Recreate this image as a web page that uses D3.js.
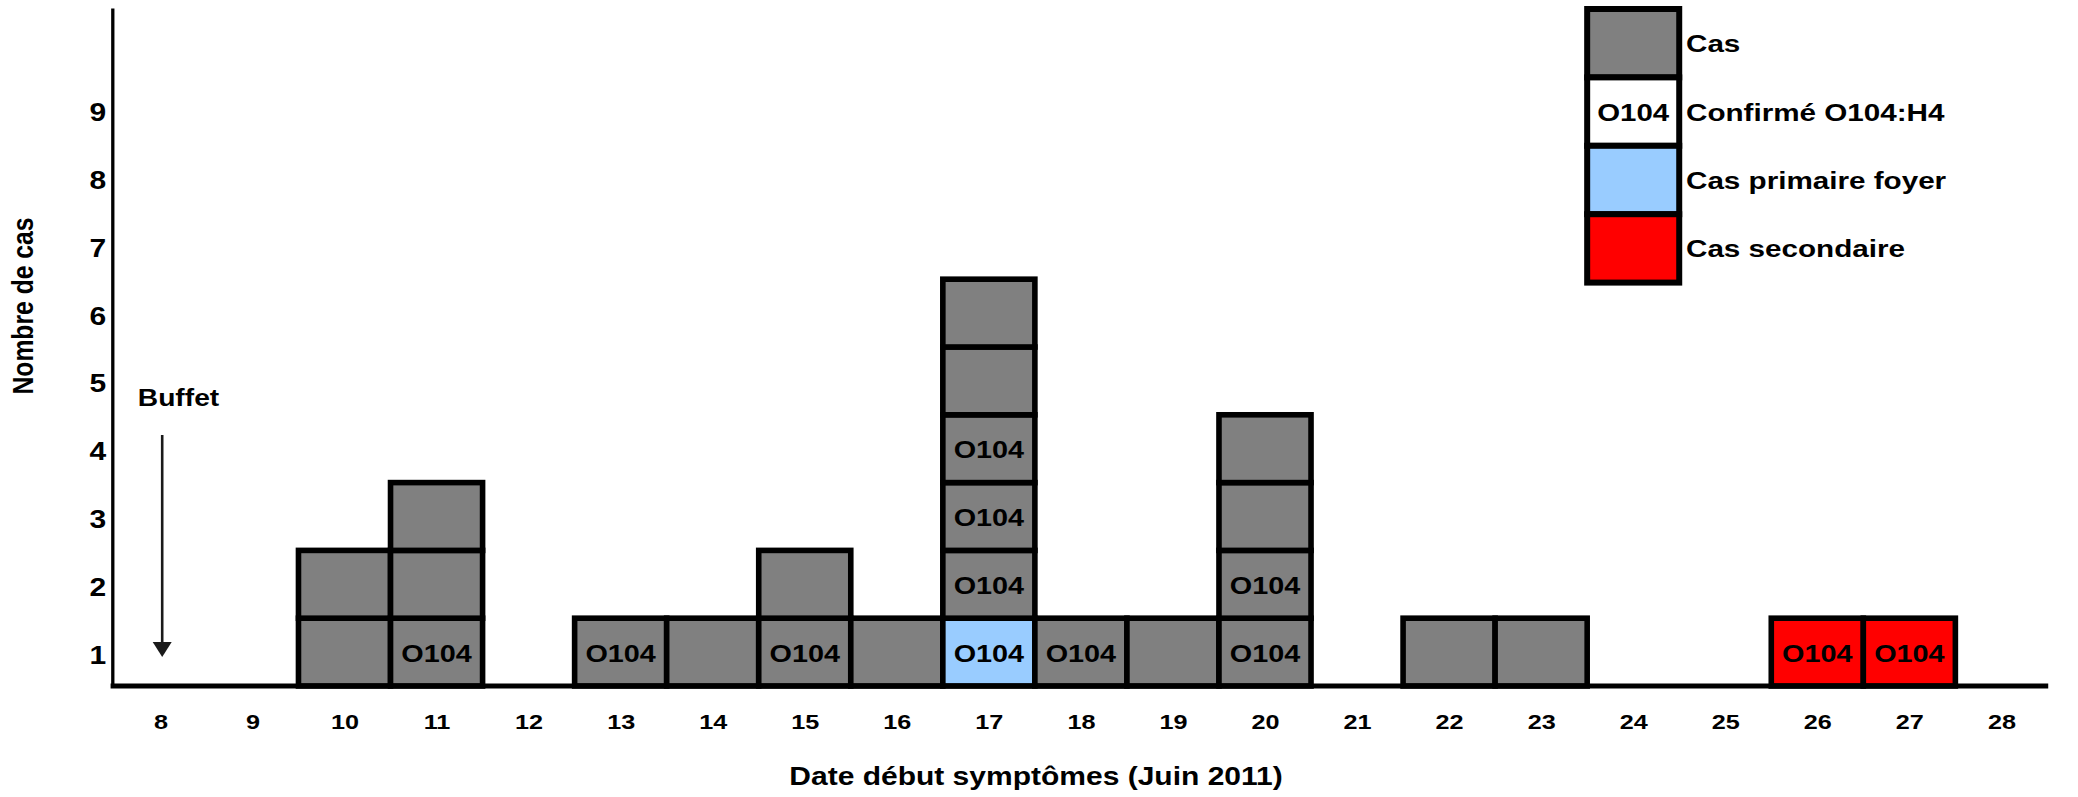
<!DOCTYPE html>
<html>
<head>
<meta charset="utf-8">
<script src="https://cdn.jsdelivr.net/npm/d3@7"></script>
<style>
  html, body { margin: 0; padding: 0; background: #fff; }
  svg { display: block; }
  text { font-family: "Liberation Sans", Arial, Helvetica, sans-serif; font-weight: bold; fill: #000; }
</style>
</head>
<body>
<svg id="chart" width="2078" height="797"></svg>
<script>
// ---------- data ----------
const days = [8, 9, 10, 11, 12, 13, 14, 15, 16, 17, 18, 19, 20, 21, 22, 23, 24, 25, 26, 27, 28];
const yTicks = [1, 2, 3, 4, 5, 6, 7, 8, 9];

// one entry per case (stacked from the bottom within each day)
const caseDay  = [10, 10, 11, 11, 11, 13, 14, 15, 15, 16, 17, 17, 17, 17, 17, 17, 18, 19, 20, 20, 20, 20, 22, 23, 26, 27];
const caseType = ["cas", "cas", "cas", "cas", "cas", "cas", "cas", "cas", "cas", "cas",
                  "primaire", "cas", "cas", "cas", "cas", "cas", "cas", "cas", "cas", "cas", "cas", "cas",
                  "cas", "cas", "secondaire", "secondaire"];
const caseO104 = [0, 0, 1, 0, 0, 1, 0, 1, 0, 0, 1, 1, 1, 1, 0, 0, 1, 0, 1, 1, 0, 0, 0, 0, 1, 1];

const legendKeys   = ["cas", "confirme", "primaire", "secondaire"];
const legendLabels = ["Cas", "Confirmé O104:H4", "Cas primaire foyer", "Cas secondaire"];
const legendInner  = ["", "O104", "", ""];

const fillColor = { cas: "#808080", confirme: "#ffffff", primaire: "#99ccff", secondaire: "#ff0000" };

const xTitle = "Date début symptômes (Juin 2011)";
const yTitle = "Nombre de cas";
const annotation = "Buffet";
const boxLabel = "O104";

// ---------- layout ----------
const SX = 1.2; // horizontal stretch of text in the original
const svg = d3.select("#chart");

const x = d3.scaleLinear().domain([8, 28]).range([160.4, 2001.4]);
const y = d3.scaleLinear().domain([0, 10]).range([686, 8]);
const yTick = d3.scaleLinear().domain([0.5, 10.5]).range([686, 8]);
const step = x(9) - x(8);

// stack levels
const counter = {};
const cases = caseDay.map((d, i) => {
  counter[d] = (counter[d] || 0) + 1;
  return { day: d, level: counter[d], type: caseType[i], o104: caseO104[i] === 1 };
});

// ---------- boxes ----------
const boxes = svg.append("g");
boxes.selectAll("rect").data(cases).join("rect")
  .attr("x", d => x(d.day - 0.5))
  .attr("y", d => y(d.level))
  .attr("width", step)
  .attr("height", d => y(d.level - 1) - y(d.level))
  .attr("fill", d => fillColor[d.type])
  .attr("stroke", "#000")
  .attr("stroke-width", 5.6);

boxes.selectAll("text").data(cases.filter(d => d.o104)).join("text")
  .attr("transform", d => `translate(${x(d.day)},${(y(d.level) + y(d.level - 1)) / 2 + 9.5}) scale(${SX},1)`)
  .attr("text-anchor", "middle")
  .attr("font-size", 24)
  .text(boxLabel);

// ---------- axes ----------
const yAxis = svg.append("g")
  .attr("transform", "translate(112.3,0)")
  .call(d3.axisLeft(yTick).tickValues(yTicks).tickSize(0).tickSizeOuter(0).tickPadding(5));
yAxis.select(".domain").attr("stroke", "#000").attr("stroke-width", 3.3);
yAxis.selectAll(".tick text")
  .attr("font-size", 25)
  .attr("font-family", null)
  .attr("y", 3)
  .attr("transform", `scale(${SX},1)`);

const xAxis = svg.append("g")
  .attr("transform", `translate(0,${y(0)})`)
  .call(d3.axisBottom(x).tickValues(days).tickFormat(d3.format("d")).tickSize(0).tickSizeOuter(0).tickPadding(28.6));
xAxis.select(".domain").remove();
xAxis.selectAll(".tick text")
  .attr("font-size", 21)
  .attr("font-family", null)
  .attr("transform", `scale(${SX},1)`);

// baseline
svg.append("line")
  .attr("x1", 110.6).attr("x2", x(28.5) + 0.8)
  .attr("y1", y(0)).attr("y2", y(0))
  .attr("stroke", "#000").attr("stroke-width", 5.2);

// axis titles
svg.append("text")
  .attr("transform", `translate(1036,785) scale(${SX},1)`)
  .attr("text-anchor", "middle")
  .attr("font-size", 25)
  .text(xTitle);

svg.append("text")
  .attr("transform", `translate(32.5,306) scale(${SX},1) rotate(-90)`)
  .attr("text-anchor", "middle")
  .attr("font-size", 24.7)
  .text(yTitle);

// ---------- Buffet annotation ----------
svg.append("text")
  .attr("transform", `translate(178.5,406) scale(${SX},1)`)
  .attr("text-anchor", "middle")
  .attr("font-size", 23.5)
  .text(annotation);

const ax = x(8) + 1.8;
svg.append("line")
  .attr("x1", ax).attr("x2", ax)
  .attr("y1", 435).attr("y2", 645)
  .attr("stroke", "#1a1a1a").attr("stroke-width", 2.6);
svg.append("path")
  .attr("d", d3.line()([[ax - 9.5, 642], [ax + 9.5, 642], [ax, 657]]) + "Z")
  .attr("fill", "#1a1a1a");

// ---------- legend ----------
const legX = x(23.5), legW = step, legTop = 9, rowH = 68.4;
const leg = svg.append("g");
leg.selectAll("rect").data(legendKeys).join("rect")
  .attr("x", legX)
  .attr("y", (d, i) => legTop + i * rowH)
  .attr("width", legW)
  .attr("height", rowH)
  .attr("fill", d => fillColor[d])
  .attr("stroke", "#000")
  .attr("stroke-width", 6);

leg.selectAll("text.inner").data(legendInner).join("text")
  .attr("class", "inner")
  .attr("transform", (d, i) => `translate(${legX + legW / 2},${legTop + i * rowH + rowH / 2 + 9}) scale(${SX},1)`)
  .attr("text-anchor", "middle")
  .attr("font-size", 24.5)
  .text(d => d);

leg.selectAll("text.lab").data(legendLabels).join("text")
  .attr("class", "lab")
  .attr("transform", (d, i) => `translate(1686,${legTop + i * rowH + rowH / 2 + 9}) scale(${SX},1)`)
  .attr("text-anchor", "start")
  .attr("font-size", 24.7)
  .text(d => d);
</script>
</body>
</html>
